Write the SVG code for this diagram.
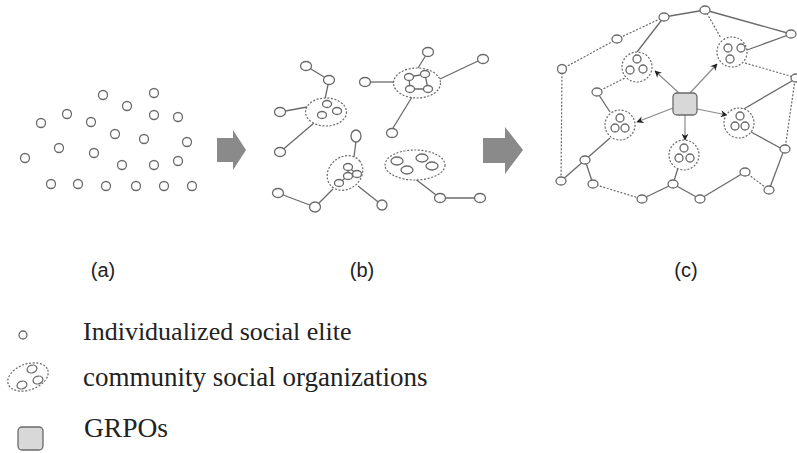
<svg xmlns="http://www.w3.org/2000/svg" width="797" height="453" viewBox="0 0 797 453">
<defs>
<style>
.n{fill:#fff;stroke:#6a6a6a;stroke-width:1.3}
.l{stroke:#6a6a6a;stroke-width:1.3;fill:none}
.d{stroke:#6a6a6a;stroke-width:1.2;fill:none;stroke-dasharray:2 1.6}
.dc{fill:#fff;stroke:#6a6a6a;stroke-width:1.2;stroke-dasharray:2 1.6}
.a{stroke:#8a8a8a;stroke-width:1.2;fill:none}
.big{fill:#8a8a8a}
.lab{font-family:"Liberation Sans",Arial,sans-serif;font-size:20px;fill:#222}
.leg{font-family:"Liberation Serif","Times New Roman",serif;font-size:26px;fill:#222}
</style>
<marker id="ah" viewBox="0 0 10 10" refX="9" refY="5" markerWidth="7" markerHeight="7" orient="auto" markerUnits="userSpaceOnUse">
<path d="M0,0 L10,5 L0,10 L3,5 Z" fill="#222"/>
</marker>
</defs>
<rect width="797" height="453" fill="#fff"/>

<g id="panel-a">
<circle class="n" cx="103" cy="95" r="4.5"/>
<circle class="n" cx="154" cy="93" r="4.5"/>
<circle class="n" cx="127" cy="106" r="4.5"/>
<circle class="n" cx="67" cy="114" r="4.5"/>
<circle class="n" cx="154" cy="115" r="4.5"/>
<circle class="n" cx="178" cy="117" r="4.5"/>
<circle class="n" cx="41" cy="123" r="4.5"/>
<circle class="n" cx="91" cy="122" r="4.5"/>
<circle class="n" cx="115" cy="134" r="4.5"/>
<circle class="n" cx="144" cy="139" r="4.5"/>
<circle class="n" cx="187" cy="142" r="4.5"/>
<circle class="n" cx="59" cy="148" r="4.5"/>
<circle class="n" cx="94" cy="153" r="4.5"/>
<circle class="n" cx="25" cy="158" r="4.5"/>
<circle class="n" cx="122" cy="165" r="4.5"/>
<circle class="n" cx="154" cy="165" r="4.5"/>
<circle class="n" cx="178" cy="161" r="4.5"/>
<circle class="n" cx="51" cy="184" r="4.5"/>
<circle class="n" cx="78" cy="184" r="4.5"/>
<circle class="n" cx="106" cy="186" r="4.5"/>
<circle class="n" cx="136" cy="186" r="4.5"/>
<circle class="n" cx="164" cy="186" r="4.5"/>
<circle class="n" cx="192" cy="186" r="4.5"/>
</g>

<g id="arrow-1"><path class="big" d="M217,138 H233 V130 L246,150 L233,170 V162 H217 Z"/></g>
<g id="arrow-2"><path class="big" d="M483,138 H505 V127 L523,150 L505,174 V163 H483 Z"/></g>

<g id="connectors-b">
<line class="l" x1="306" y1="66" x2="329" y2="80"/>
<line class="l" x1="329" y1="80" x2="325" y2="99"/>
<line class="l" x1="280" y1="112" x2="307" y2="107"/>
<line class="l" x1="280" y1="152" x2="314" y2="123"/>
<line class="l" x1="428" y1="52" x2="418" y2="68"/>
<line class="l" x1="365" y1="82" x2="394" y2="82"/>
<line class="l" x1="412" y1="97" x2="393" y2="128"/>
<line class="l" x1="440" y1="79" x2="478" y2="61"/>
<line class="l" x1="356" y1="141" x2="354" y2="157"/>
<line class="l" x1="278" y1="193" x2="315" y2="207"/>
<line class="l" x1="315" y1="207" x2="333" y2="189"/>
<line class="l" x1="358" y1="186" x2="382" y2="205"/>
<line class="l" x1="414" y1="178" x2="440" y2="198"/>
<line class="l" x1="440" y1="198" x2="480" y2="198"/>
</g>

<g id="panel-b-nodes">
<ellipse class="n" cx="306" cy="66" rx="5.5" ry="4.5"/>
<ellipse class="n" cx="329" cy="80" rx="5.5" ry="4.5"/>
<ellipse class="n" cx="280" cy="112" rx="5.5" ry="4.5"/>
<ellipse class="n" cx="280" cy="152" rx="5.5" ry="4.5"/>
<ellipse class="n" cx="428" cy="52" rx="5.5" ry="4.5"/>
<ellipse class="n" cx="365" cy="82" rx="5.5" ry="4.5"/>
<ellipse class="n" cx="392" cy="133" rx="5.5" ry="4.5"/>
<ellipse class="n" cx="483" cy="59" rx="5.5" ry="4.5"/>
<ellipse class="n" cx="356" cy="136" rx="5" ry="6"/>
<ellipse class="n" cx="278" cy="193" rx="5.5" ry="4.5"/>
<ellipse class="n" cx="315" cy="207" rx="5.5" ry="5"/>
<ellipse class="n" cx="382" cy="205" rx="5" ry="5"/>
<ellipse class="n" cx="440" cy="198" rx="5.5" ry="4.5"/>
<ellipse class="n" cx="480" cy="198" rx="5.5" ry="4.5"/>
</g>

<g id="cluster-b1">
<ellipse class="dc" cx="326" cy="112" rx="20.5" ry="14"/>
<ellipse class="n" cx="327" cy="104" rx="4.5" ry="3.5"/>
<ellipse class="n" cx="337" cy="111" rx="4.5" ry="3.5"/>
<ellipse class="n" cx="322" cy="115" rx="4.5" ry="3.5"/>
</g>
<g id="cluster-b2">
<ellipse class="dc" cx="417" cy="83" rx="23.5" ry="15"/>
<path class="l" d="M409,77 L425,74 L428,89 L410,89 Z"/>
<ellipse class="n" cx="409" cy="77" rx="4.5" ry="3.5"/>
<ellipse class="n" cx="425" cy="74" rx="4.5" ry="3.5"/>
<ellipse class="n" cx="410" cy="89" rx="4.5" ry="3.5"/>
<ellipse class="n" cx="428" cy="89" rx="4.5" ry="3.5"/>
</g>
<g id="cluster-b3">
<ellipse class="dc" cx="345" cy="173" rx="19" ry="16" transform="rotate(-40 345 173)"/>
<path class="l" d="M348,167 L357,174 L348,176 Z M348,176 L339,183"/>
<ellipse class="n" cx="348" cy="167" rx="4.5" ry="3.5"/>
<ellipse class="n" cx="357" cy="174" rx="4.5" ry="3.5"/>
<ellipse class="n" cx="348" cy="176" rx="4.5" ry="3.5"/>
<ellipse class="n" cx="339" cy="183" rx="4.5" ry="3.5"/>
</g>
<g id="cluster-b4">
<ellipse class="dc" cx="415" cy="165" rx="30" ry="15"/>
<ellipse class="n" cx="397" cy="161" rx="6" ry="4"/>
<ellipse class="n" cx="422" cy="158" rx="6" ry="4"/>
<ellipse class="n" cx="432" cy="166" rx="6" ry="4"/>
<ellipse class="n" cx="407" cy="170" rx="6" ry="4"/>
</g>

<g id="connectors-c">
<line class="d" x1="664" y1="17" x2="617" y2="39"/>
<line class="d" x1="617" y1="39" x2="562" y2="69"/>
<line class="l" x1="664" y1="17" x2="637" y2="52"/>
<line class="d" x1="562" y1="69" x2="561" y2="181"/>
<line class="d" x1="597" y1="92" x2="625" y2="78"/>
<line class="l" x1="597" y1="92" x2="610" y2="112"/>
<line class="l" x1="664" y1="17" x2="705" y2="10"/>
<line class="l" x1="705" y1="10" x2="791" y2="34"/>
<line class="d" x1="705" y1="10" x2="721" y2="38"/>
<line class="l" x1="747" y1="50" x2="791" y2="34"/>
<line class="d" x1="745" y1="63" x2="797" y2="78"/>
<line class="l" x1="797" y1="78" x2="742" y2="110"/>
<line class="d" x1="795" y1="80" x2="785" y2="149"/>
<line class="l" x1="751" y1="132" x2="784" y2="150"/>
<line class="l" x1="784" y1="150" x2="769" y2="190"/>
<line class="d" x1="745" y1="172" x2="769" y2="190"/>
<line class="l" x1="745" y1="172" x2="700" y2="199"/>
<line class="l" x1="700" y1="199" x2="673" y2="184"/>
<line class="l" x1="678" y1="168" x2="673" y2="184"/>
<line class="l" x1="610" y1="138" x2="585" y2="160"/>
<line class="l" x1="585" y1="160" x2="561" y2="181"/>
<line class="l" x1="585" y1="160" x2="593" y2="184"/>
<line class="d" x1="593" y1="184" x2="642" y2="199"/>
<line class="l" x1="642" y1="199" x2="673" y2="184"/>
<line class="a" x1="679" y1="93" x2="655" y2="71" marker-end="url(#ah)"/>
<line class="a" x1="690" y1="93" x2="717" y2="64" marker-end="url(#ah)"/>
<line class="a" x1="673" y1="108" x2="637" y2="122" marker-end="url(#ah)"/>
<line class="a" x1="685" y1="115" x2="685" y2="140" marker-end="url(#ah)"/>
<line class="a" x1="697" y1="109" x2="727" y2="115" marker-end="url(#ah)"/>
</g>

<g id="panel-c-nodes">
<ellipse class="n" cx="664" cy="17" rx="5" ry="4"/>
<ellipse class="n" cx="705" cy="10" rx="5" ry="4"/>
<ellipse class="n" cx="791" cy="34" rx="5" ry="4"/>
<ellipse class="n" cx="617" cy="39" rx="5" ry="4"/>
<ellipse class="n" cx="562" cy="69" rx="4.5" ry="4.5"/>
<ellipse class="n" cx="796" cy="78" rx="5" ry="4"/>
<ellipse class="n" cx="597" cy="92" rx="5" ry="4"/>
<ellipse class="n" cx="785" cy="149" rx="5" ry="4"/>
<ellipse class="n" cx="585" cy="160" rx="5" ry="4"/>
<ellipse class="n" cx="561" cy="181" rx="5" ry="4"/>
<ellipse class="n" cx="593" cy="184" rx="5" ry="4"/>
<ellipse class="n" cx="673" cy="184" rx="5" ry="4"/>
<ellipse class="n" cx="642" cy="199" rx="5" ry="4"/>
<ellipse class="n" cx="700" cy="199" rx="5" ry="4"/>
<ellipse class="n" cx="745" cy="172" rx="5" ry="4"/>
<ellipse class="n" cx="769" cy="190" rx="5" ry="4"/>
</g>

<g id="cluster-c1">
<circle class="dc" cx="637" cy="67" r="15"/>
<circle class="n" cx="637" cy="59" r="4"/>
<circle class="n" cx="630" cy="70" r="4"/>
<circle class="n" cx="643" cy="69" r="4"/>
</g>
<g id="cluster-c2">
<circle class="dc" cx="732" cy="52" r="15"/>
<circle class="n" cx="728" cy="48" r="4"/>
<circle class="n" cx="741" cy="48" r="4"/>
<circle class="n" cx="730" cy="59" r="4"/>
</g>
<g id="cluster-c3">
<circle class="dc" cx="620" cy="125" r="15"/>
<circle class="n" cx="620" cy="118" r="4"/>
<circle class="n" cx="615" cy="128" r="4"/>
<circle class="n" cx="625" cy="128" r="4"/>
</g>
<g id="cluster-c4">
<circle class="dc" cx="684" cy="155" r="15"/>
<circle class="n" cx="684" cy="148" r="4"/>
<circle class="n" cx="679" cy="158" r="4"/>
<circle class="n" cx="690" cy="158" r="4"/>
</g>
<g id="cluster-c5">
<circle class="dc" cx="739" cy="123" r="15"/>
<circle class="n" cx="740" cy="116" r="4"/>
<circle class="n" cx="735" cy="126" r="4"/>
<circle class="n" cx="745" cy="126" r="4"/>
</g>
<g id="grpo-c">
<rect x="673" y="93" width="24" height="22" rx="4" fill="#d8d8d8" stroke="#6a6a6a" stroke-width="1.3"/>
</g>

<g id="labels">
<text class="lab" x="103" y="277" text-anchor="middle">(a)</text>
<text class="lab" x="362" y="277" text-anchor="middle">(b)</text>
<text class="lab" x="686" y="277" text-anchor="middle">(c)</text>
</g>

<g id="legend">
<circle class="n" cx="23" cy="335" r="4"/>
<text class="leg" x="83" y="340">Individualized social elite</text>
<ellipse class="dc" cx="28" cy="377" rx="21" ry="13" transform="rotate(-20 28 377)"/>
<ellipse class="n" cx="32" cy="369" rx="5" ry="3.8" transform="rotate(-20 32 369)"/>
<ellipse class="n" cx="38" cy="380" rx="5" ry="3.8" transform="rotate(-20 38 380)"/>
<ellipse class="n" cx="22" cy="385" rx="5" ry="3.8" transform="rotate(-20 22 385)"/>
<text class="leg" x="83" y="386" style="font-size:27px">community social organizations</text>
<rect x="18" y="427" width="25" height="23" rx="4" fill="#d8d8d8" stroke="#6a6a6a" stroke-width="1.3"/>
<text class="leg" x="84" y="437" style="font-size:27.5px">GRPOs</text>
</g>
</svg>
